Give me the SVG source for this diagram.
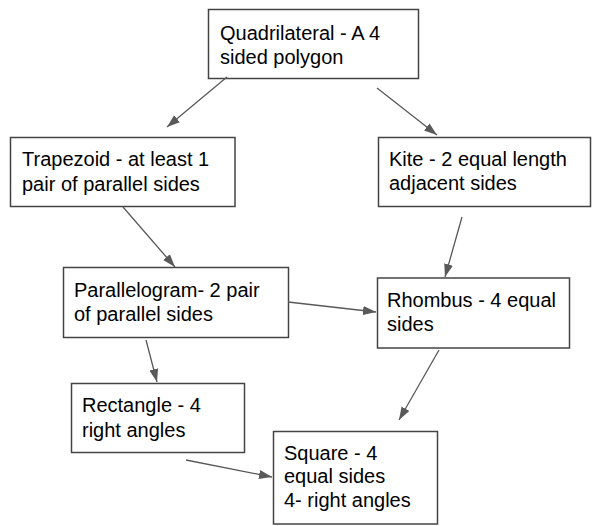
<svg xmlns="http://www.w3.org/2000/svg" width="592" height="526" viewBox="0 0 592 526">
<style>
.box{fill:#fff;stroke:#444;stroke-width:1.5}
.t{font-family:"Liberation Sans",Arial,sans-serif;font-size:20px;fill:#000}
.c line{stroke:#595959;stroke-width:1.3;marker-end:url(#ah)}
</style>
<defs>
<marker id="ah" markerUnits="userSpaceOnUse" markerWidth="14" markerHeight="12" viewBox="0 0 14 12" refX="13" refY="6" orient="auto">
<path d="M0,1.5 L13,6 L0,10.5 Z" fill="#595959"/>
</marker>
</defs>
<rect width="592" height="526" fill="#fff"/>
<g id="quadrilateral"><rect class="box" x="208.5" y="9.5" width="210" height="69"/>
<text class="t" x="220" y="39.5">Quadrilateral - A 4</text><text class="t" x="220" y="64">sided polygon</text></g>
<g id="trapezoid"><rect class="box" x="10.5" y="137.5" width="224.5" height="69"/>
<text class="t" x="22" y="166">Trapezoid - at least 1</text><text class="t" x="22" y="191">pair of parallel sides</text></g>
<g id="kite"><rect class="box" x="378.5" y="137.5" width="212" height="69"/>
<text class="t" x="389" y="166">Kite - 2 equal length</text><text class="t" x="389" y="190">adjacent sides</text></g>
<g id="parallelogram"><rect class="box" x="63.5" y="267.5" width="225" height="70"/>
<text class="t" x="74" y="297">Parallelogram- 2 pair</text><text class="t" x="74" y="321">of parallel sides</text></g>
<g id="rhombus"><rect class="box" x="377.5" y="278" width="192" height="70"/>
<text class="t" x="387" y="307">Rhombus - 4 equal</text><text class="t" x="387" y="331">sides</text></g>
<g id="rectangle"><rect class="box" x="71.5" y="383.5" width="173" height="69"/>
<text class="t" x="82" y="412">Rectangle - 4</text><text class="t" x="82" y="437">right angles</text></g>
<g id="square"><rect class="box" x="273.5" y="431.5" width="164" height="92.5"/>
<text class="t" x="284" y="460">Square - 4</text><text class="t" x="284" y="483">equal sides</text><text class="t" x="284" y="507">4- right angles</text></g>
<g class="c" id="connectors">
<line x1="227" y1="77" x2="167" y2="127"/>
<line x1="377" y1="88" x2="437" y2="135"/>
<line x1="123" y1="207" x2="175" y2="267"/>
<line x1="462" y1="217" x2="445" y2="277"/>
<line x1="288" y1="302" x2="376" y2="312"/>
<line x1="146" y1="340" x2="157" y2="382"/>
<line x1="439" y1="350" x2="399" y2="420"/>
<line x1="186" y1="460" x2="272" y2="477"/>
</g>
</svg>
